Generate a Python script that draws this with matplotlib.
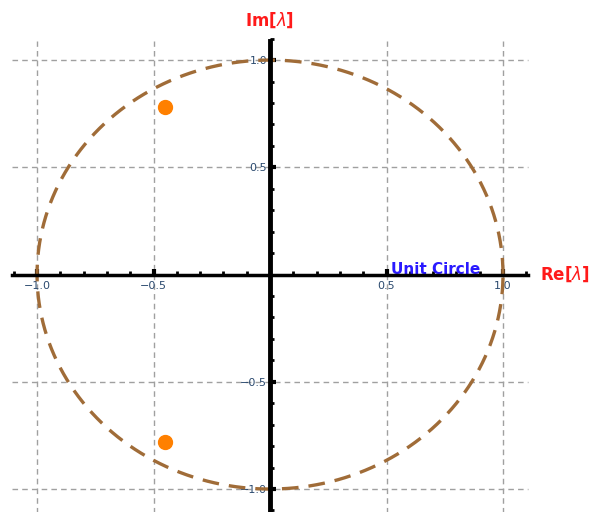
import numpy as np
import matplotlib.pyplot as plt

# eigenvalues (complex pair)
eig_re = [-0.45, -0.45]
eig_im = [0.78, -0.78]

major_ticks = [-1.0, -0.5, 0.5, 1.0]
tick_labels = ['\u22121.0', '\u22120.5', '0.5', '1.0']

fig = plt.figure(figsize=(5.92, 5.12), dpi=100)
ax = fig.add_axes([0, 0, 1, 1])
ax.set_xlim(-1.159, 1.382)
ax.set_ylim(-1.107, 1.28)

xlo, xhi = -1.107, 1.107
ylo, yhi = -1.12, 1.09

# grid lines
for v in major_ticks:
    ax.plot([v, v], [ylo, yhi], color='#a0a0a0', lw=1, ls=(0, (4, 3)), zorder=1)
    ax.plot([xlo, xhi], [v, v], color='#a0a0a0', lw=1, ls=(0, (4, 3)), zorder=1)

# unit circle
t = np.linspace(0, 2 * np.pi, 400)
ax.plot(np.cos(t), np.sin(t), color='#a06c38', lw=2.4, ls=(0, (5, 3)), zorder=2)

# axes through origin
for s in ['top', 'right']:
    ax.spines[s].set_visible(False)
ax.spines['left'].set_position(('data', 0))
ax.spines['bottom'].set_position(('data', 0))
ax.spines['left'].set_bounds(ylo, yhi)
ax.spines['bottom'].set_bounds(xlo, xhi)
ax.spines['left'].set_linewidth(3.5)
ax.spines['bottom'].set_linewidth(2.5)
ax.spines['left'].set_zorder(3)
ax.spines['bottom'].set_zorder(3)

ax.set_xticks(major_ticks)
ax.set_yticks(major_ticks)
ax.set_xticklabels(tick_labels)
ax.set_yticklabels(tick_labels)
minor = [round(v, 1) for v in np.arange(-1.1, 1.11, 0.1) if abs(v) > 1e-9]
ax.set_xticks(minor, minor=True)
ax.set_yticks(minor, minor=True)
ax.tick_params(axis='x', which='major', direction='in', length=4, width=3,
               labelsize=8, labelcolor='#2b4a6f', pad=5)
ax.tick_params(axis='y', which='major', direction='in', length=4, width=3,
               labelsize=8, labelcolor='#2b4a6f', pad=2)
ax.tick_params(which='minor', direction='in', length=3, width=2)

# eigenvalues
ax.plot(eig_re, eig_im, 'o', color='#ff8000', ms=10, zorder=4)

ax.text(0, 1.185, 'Im[$\\lambda$]', color='#ff1a1a', fontsize=12, fontweight='bold',
        ha='center', va='center')
ax.text(1.265, 0.0, 'Re[$\\lambda$]', color='#ff1a1a', fontsize=12, fontweight='bold',
        ha='center', va='center')
ax.text(0.71, 0.025, 'Unit Circle', color='#2a1aff', fontsize=11, fontweight='bold',
        ha='center', va='center')

fig.savefig('out.png', dpi=100)
